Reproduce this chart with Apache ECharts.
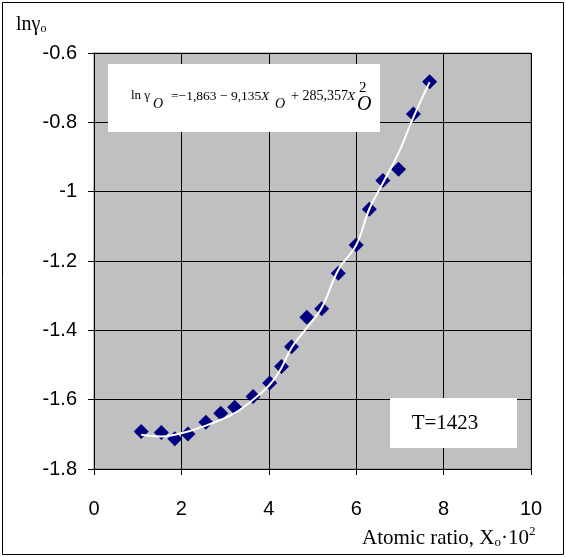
<!DOCTYPE html>
<html>
<head>
<meta charset="utf-8">
<script src="https://cdn.jsdelivr.net/npm/echarts@6/dist/echarts.min.js"></script>
<style>
    html, body { margin: 0; padding: 0; background: #fff; }
    #chart { width: 566px; height: 557px; }
</style>
</head>
<body>
<div id="chart"></div>
<script>
// atomic ratio X_o * 10^2
const xValues = [1.08, 1.54, 1.85, 2.15, 2.56, 2.90, 3.22, 3.64, 4.02, 4.29, 4.52, 4.87, 5.21, 5.59, 6.00, 6.30, 6.61, 6.97, 7.31, 7.68]
// measured ln gamma_o
const lnGamma = [-1.692, -1.695, -1.713, -1.699, -1.665, -1.639, -1.622, -1.591, -1.552, -1.504, -1.447, -1.362, -1.338, -1.235, -1.154, -1.051, -0.968, -0.935, -0.776, -0.683]
// smoothed white curve
const lnGammaFit = [-1.701, -1.706, -1.701, -1.692, -1.675, -1.658, -1.639, -1.600, -1.557, -1.508, -1.450, -1.393, -1.335, -1.226, -1.154, -1.050, -0.975, -0.888, -0.785, -0.684]
const xTicks = [0, 2, 4, 6, 8, 10]
const yTicks = [-1.8, -1.6, -1.4, -1.2, -1, -0.8, -0.6]

const serif = "'Liberation Serif', 'Times New Roman', serif"
const sans = "'Liberation Sans', Arial, sans-serif"

let chart = echarts.init(document.getElementById("chart"))

let option = {
    animation: false,
    backgroundColor: "#fff",
    grid: {
        left: 94,
        right: 35,
        top: 53,
        bottom: 88,
        outerBoundsMode: "none",
        show: true,
        backgroundColor: "#c0c0c0",
        borderColor: "#808080",
        borderWidth: 1,
    },
    xAxis: {
        type: "value",
        min: xTicks[0],
        max: xTicks[xTicks.length - 1],
        interval: 2,
        axisLine: { show: true, onZero: false, lineStyle: { color: "#000", width: 1 } },
        axisTick: { show: true, length: 6, lineStyle: { color: "#000" } },
        axisLabel: { margin: 30, color: "#000", fontSize: 20, fontFamily: sans },
        splitLine: { show: true, lineStyle: { color: "#000", width: 1 } },
    },
    yAxis: {
        type: "value",
        min: yTicks[0],
        max: yTicks[yTicks.length - 1],
        interval: 0.2,
        axisLine: { show: true, onZero: false, lineStyle: { color: "#000", width: 1 } },
        axisTick: { show: true, length: 6, lineStyle: { color: "#000" } },
        axisLabel: { margin: 17, color: "#000", fontSize: 20, fontFamily: sans },
        splitLine: { show: true, lineStyle: { color: "#000", width: 1 } },
    },
    series: [
        {
            type: "scatter",
            data: xValues.map((x, i) => [x, lnGamma[i]]),
            symbol: "diamond",
            symbolSize: 15,
            itemStyle: { color: "#000080", opacity: 1 },
            z: 2,
        },
        {
            type: "line",
            data: xValues.map((x, i) => [x, lnGammaFit[i]]),
            smooth: 0.4,
            showSymbol: false,
            lineStyle: { color: "#fff", width: 2 },
            z: 3,
        },
    ],
    graphic: [
        // outer frame
        { type: "rect", shape: { x: 2.5, y: 2.5, width: 561, height: 552 }, style: { fill: null, stroke: "#000", lineWidth: 1 }, z: 10 },
        // y axis name
        {
            type: "text", x: 16, y: 13,
            style: {
                text: "{a|lnγ}{s|o}",
                fill: "#000",
                rich: {
                    a: { fontFamily: serif, fontSize: 20, lineHeight: 22, verticalAlign: "bottom" },
                    s: { fontFamily: serif, fontSize: 12, lineHeight: 14, verticalAlign: "bottom" },
                },
            },
        },
        // x axis name
        {
            type: "text", x: 362, y: 525,
            style: {
                text: "{a|Atomic ratio, X}{s|o}{a|·10}{p|2}",
                fill: "#000",
                rich: {
                    a: { fontFamily: serif, fontSize: 21, lineHeight: 24, verticalAlign: "bottom" },
                    s: { fontFamily: serif, fontSize: 13, lineHeight: 14, verticalAlign: "bottom" },
                    p: { fontFamily: serif, fontSize: 13, lineHeight: 13, verticalAlign: "top" },
                },
            },
        },
        // equation box
        { type: "rect", shape: { x: 108, y: 64, width: 272, height: 68 }, style: { fill: "#fff", stroke: null }, z: 5 },
        { type: "text", x: 131, y: 96, z: 6, style: { text: "ln γ", font: "13px " + serif, fill: "#000", verticalAlign: "middle" } },
        { type: "text", x: 153, y: 104, z: 6, style: { text: "O", font: "italic 14px " + serif, fill: "#000", verticalAlign: "middle" } },
        { type: "text", x: 171, y: 96, z: 6, style: { text: "=−1,863 − 9,135", font: "13.5px " + serif, fill: "#000", verticalAlign: "middle" } },
        { type: "text", x: 261, y: 96, z: 6, style: { text: "X", font: "italic 13.5px " + serif, fill: "#000", verticalAlign: "middle" } },
        { type: "text", x: 275, y: 104, z: 6, style: { text: "O", font: "italic 14px " + serif, fill: "#000", verticalAlign: "middle" } },
        { type: "text", x: 291, y: 96, z: 6, style: { text: "+ 285,357", font: "14px " + serif, fill: "#000", verticalAlign: "middle" } },
        { type: "text", x: 347, y: 96, z: 6, style: { text: "X", font: "italic 13.5px " + serif, fill: "#000", verticalAlign: "middle" } },
        { type: "text", x: 359, y: 88, z: 6, style: { text: "2", font: "15px " + serif, fill: "#000", verticalAlign: "middle" } },
        { type: "text", x: 357, y: 105, z: 6, style: { text: "O", font: "italic 20px " + serif, fill: "#000", verticalAlign: "middle" } },
        // temperature box
        { type: "rect", shape: { x: 390, y: 398, width: 127, height: 50 }, style: { fill: "#fff", stroke: null }, z: 5 },
        { type: "text", x: 445, y: 423, z: 6, style: { text: "T=1423", font: "21px " + serif, fill: "#000", align: "center", verticalAlign: "middle" } },
    ],
}

option && chart.setOption(option)
</script>
</body>
</html>
